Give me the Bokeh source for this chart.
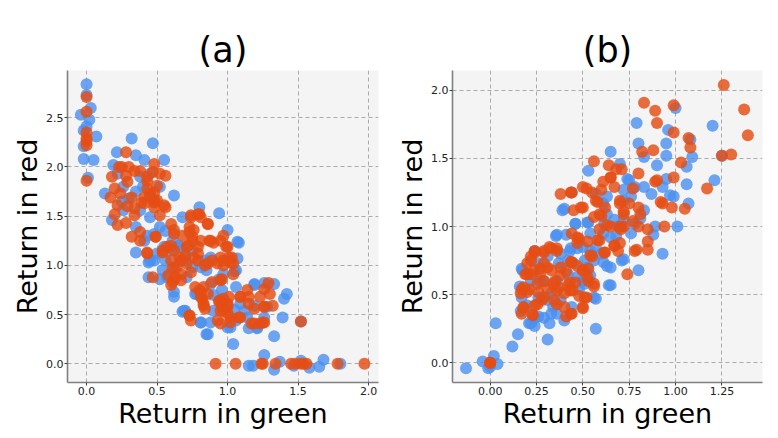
from bokeh.plotting import figure
from bokeh.layouts import row
from bokeh.models import Range1d, FixedTicker
from bokeh.embed import file_html
from bokeh.resources import INLINE

# ---------------- data ----------------
titles = ["(a)", "(b)"]
x_label = "Return in green"
y_label = "Return in red"

a_xticks = [0.0, 0.5, 1.0, 1.5, 2.0]
a_xtick_labels = ["0.0", "0.5", "1.0", "1.5", "2.0"]
a_yticks = [0.0, 0.5, 1.0, 1.5, 2.0, 2.5]
a_ytick_labels = ["0.0", "0.5", "1.0", "1.5", "2.0", "2.5"]
b_xticks = [0.0, 0.25, 0.5, 0.75, 1.0, 1.25]
b_xtick_labels = ["0.00", "0.25", "0.50", "0.75", "1.00", "1.25"]
b_yticks = [0.0, 0.5, 1.0, 1.5, 2.0]
b_ytick_labels = ["0.0", "0.5", "1.0", "1.5", "2.0"]

a_blue = [
    (0, 2.84), (0, 2.73), (0.03, 2.60), (-0.04, 2.53), (0.02, 2.48), (-0.02, 2.37), (0.07, 2.31),
    (-0.02, 2.21), (-0.02, 2.08), (0.05, 2.07), (0.01, 1.89), (0, 2.41),
    (0.32, 2.29), (0.47, 2.24), (0.215, 2.15), (0.35, 2.12), (0.55, 2.07), (0.41, 2.07), (0.19, 2.02),
    (0.13, 1.73), (0.62, 1.71), (0.18, 1.46), (0.35, 1.39), (0.35, 1.13), (0.44, 1.03), (0.48, 1.05),
    (0.44, 0.88), (0.62, 0.73), (0.68, 0.53), (0.81, 0.42), (0.85, 0.30), (1.04, 0.20), (0.94, 0.86),
    (1.08, 1.23), (1.07, 1.07), (1.05, 0.94), (1.06, 0.78), (1.19, 0.81), (1.26, 0.82), (1.33, 0.81),
    (1.42, 0.71), (1.40, 0.66), (1.39, 0.47), (1.33, 0.28), (1.21, 0.36), (0.94, 1.53), (0.80, 1.59),
    (0.68, 1.49), (0.61, 1.25), (0.54, 0.95), (0.67, 1.05), (0.75, 0.98), (0.84, 1.05), (0.88, 0.81),
    (1.0, 1.36), (0.96, 0.75), (0.90, 0.54), (1.0, 0.37), (1.06, 0.44), (1.09, 0.61), (1.14, 0.47),
    (1.26, 0.47), (1.28, 0.58), (0.26, 1.80), (0.30, 1.68), (0.38, 1.56), (0.45, 1.49), (0.26, 1.56),
    (0.41, 1.25), (0.48, 1.32), (0.55, 1.19), (0.50, 1.12), (0.71, 0.88), (0.78, 0.71), (0.45, 1.93),
    (0.52, 1.80), (0.38, 1.90), (0.22, 1.93), (0.62, 0.98), (0.57, 0.88), (0.60, 1.15), (0.70, 1.05),
    (0.75, 1.15), (0.65, 1.20), (0.85, 0.95), (0.90, 0.70), (0.95, 0.65), (1.0, 0.60), (1.05, 0.55),
    (0.25, 1.65), (0.35, 1.75), (0.40, 1.80), (0.45, 1.70), (1.52, 0.43), (0.69, 0.54), (0.88, 0.42),
    (1.07, 1.24), (1.06, 0.95), (0.62, 0.68), (0.52, 0.86), (0.45, 1.05), (0.56, 1.05), (0.88, 1.08),
    (0.97, 0.91), (1.19, 0.80), (0.70, 0.54), (0.77, 0.71), (0.81, 0.42), (0.86, 0.30), (1.02, 0.37),
    (1.15, 0.36), (1.21, 0.37), (1.12, 0.54), (1.19, 0.59), (0.52, 1.39), (0.43, 1.30), (0.67, 1.19),
    (0.70, 1.08), (0.81, 0.98), (0.56, 1.35),
    (1.15, -0.02), (1.18, -0.02), (1.33, -0.06), (1.37, 0.02), (1.52, 0.03), (1.58, -0.04),
    (1.65, -0.03), (1.68, 0.04), (1.80, 0.0), (1.26, 0.09), (1.47, -0.02),
]
a_orange = [
    (0, 2.71), (0, 2.56), (0, 2.35), (0, 2.29), (0, 2.22), (0, 1.86), (0, 2.26),
    (0.28, 2.15), (0.18, 1.90), (0.23, 2.0), (0.25, 2.0), (0.30, 2.0), (0.28, 1.91), (0.29, 1.85),
    (0.34, 1.96), (0.38, 1.96), (0.43, 1.86), (0.48, 2.03), (0.47, 1.95), (0.56, 1.91), (0.43, 1.78),
    (0.48, 1.74), (0.17, 1.69), (0.20, 1.78), (0.24, 1.73), (0.32, 1.69), (0.22, 1.61), (0.29, 1.60),
    (0.34, 1.58), (0.39, 1.64), (0.20, 1.52), (0.22, 1.41), (0.28, 1.43), (0.34, 1.51), (0.32, 1.29),
    (0.38, 1.34), (0.38, 1.25), (0.43, 1.12), (0.49, 1.29), (0.47, 0.88), (0.48, 1.59), (0.50, 1.66),
    (0.56, 1.59), (0.52, 1.51), (0.60, 1.42), (0.62, 1.36), (0.54, 1.13), (0.57, 1.19), (0.62, 1.15),
    (0.60, 1.05), (0.64, 0.98), (0.58, 0.90), (0.61, 0.83), (0.63, 0.88), (0.67, 0.91), (0.70, 1.10),
    (0.72, 1.20), (0.68, 1.30), (0.73, 1.39), (0.76, 1.36), (0.74, 1.49), (0.79, 1.52), (0.81, 1.49),
    (0.75, 1.29), (0.79, 1.19), (0.79, 1.05), (0.81, 1.25), (0.86, 1.42), (0.87, 1.25), (0.90, 1.23),
    (0.86, 1.02), (0.83, 0.78), (0.80, 0.75), (0.86, 0.71), (0.81, 0.68), (0.89, 0.83), (0.95, 1.08),
    (0.97, 1.30), (1.0, 1.19), (1.03, 1.08), (1.04, 1.02), (1.02, 1.03), (0.97, 1.0), (0.93, 1.02),
    (0.95, 0.85), (0.94, 0.64), (0.97, 0.66), (1.01, 0.68), (1.0, 0.58), (1.0, 0.51), (0.96, 0.58),
    (0.95, 0.41), (1.02, 0.42), (1.08, 0.47), (1.09, 0.68), (1.14, 0.75), (1.15, 0.61), (1.19, 0.56),
    (1.23, 0.68), (1.26, 0.76), (1.29, 0.82), (1.30, 0.71), (1.32, 0.59), (1.26, 0.58), (1.26, 0.42),
    (1.23, 0.41), (1.17, 0.41), (0.83, 0.59), (0.84, 0.56), (0.73, 0.49), (0.74, 0.44), (0.50, 1.81),
    (0.48, 1.66), (0.41, 1.69), (0.76, 1.08), (0.71, 1.02), (0.66, 1.08), (0.95, 0.54), (1.04, 0.91),
    (0.74, 1.51), (0.80, 1.52), (0.73, 1.34), (0.75, 1.25), (0.62, 1.32), (0.60, 1.20), (0.54, 1.15),
    (0.71, 1.19), (0.79, 1.12), (0.88, 1.25), (0.89, 1.05), (0.84, 1.0), (0.67, 1.05), (0.61, 0.97),
    (0.62, 0.86), (0.67, 0.85), (0.60, 0.80), (0.74, 0.93), (0.77, 0.78), (0.81, 0.73), (0.82, 0.66),
    (0.96, 0.86), (0.97, 1.05), (1.01, 1.08), (0.99, 1.19), (0.95, 1.25), (0.86, 1.42), (0.49, 1.29),
    (0.43, 1.13), (1.0, 0.61), (0.94, 0.63), (0.97, 0.54), (1.02, 0.47), (1.09, 0.47), (1.19, 0.41),
    (1.25, 0.42), (1.26, 0.58), (1.15, 0.68), (1.09, 0.68), (0.93, 0.44), (0.83, 0.61), (0.73, 0.49),
    (0.52, 1.93), (0.41, 1.63), (0.48, 1.64), (0.55, 1.61), (0.43, 1.90), (0.45, 1.73),
    (0.915, 0.0), (1.057, 0.0), (1.24, 0.0), (1.25, 0.0), (1.34, 0.0), (1.45, 0.0), (1.48, 0.0),
    (1.52, 0.0), (1.54, 0.0), (1.56, 0.0), (1.78, 0.0), (1.97, 0.0), (1.52, 0.43),
]
b_blue = [
    (-0.13, -0.04), (-0.04, 0.01), (-0.01, -0.04), (0.02, 0.05), (0.04, -0.01), (0.0, -0.03),
    (0.03, 0.29), (0.12, 0.12), (0.15, 0.21), (0.31, 0.17), (0.32, 0.29), (0.57, 0.25), (0.57, 0.47),
    (0.65, 0.57), (0.65, 0.70), (0.72, 0.76), (0.80, 0.68), (0.93, 0.80), (1.01, 1.0), (1.07, 1.17),
    (1.06, 1.31), (1.06, 1.44), (1.09, 1.51), (1.08, 1.64), (1.00, 1.87), (0.96, 1.71), (0.95, 1.61),
    (0.95, 1.52), (0.95, 1.35), (0.97, 1.23), (0.90, 1.45), (0.83, 1.51), (0.80, 1.61), (0.79, 1.76),
    (0.65, 1.55), (0.53, 1.41), (0.44, 1.25), (0.39, 1.12), (0.36, 0.94), (0.41, 0.94), (0.46, 1.02),
    (0.53, 1.03), (0.57, 1.24), (0.61, 1.17), (0.65, 0.92), (0.69, 1.0), (0.72, 1.05), (0.74, 1.35),
    (0.76, 1.22), (0.87, 1.24), (0.83, 1.12), (0.81, 1.06), (0.88, 0.94), (0.89, 1.0), (0.76, 0.95),
    (0.71, 0.75), (1.20, 1.74), (1.25, 1.52), (1.21, 1.34), (0.24, 0.82), (0.17, 0.69), (0.16, 0.56),
    (0.17, 0.48), (0.20, 0.42), (0.21, 0.29), (0.24, 0.27), (0.26, 0.34), (0.33, 0.36), (0.34, 0.41),
    (0.38, 0.46), (0.40, 0.31), (0.44, 0.41), (0.48, 0.54), (0.50, 0.60), (0.54, 0.64), (0.56, 0.75),
    (0.61, 0.74), (0.57, 0.85), (0.51, 0.75), (0.43, 0.82), (0.38, 0.80), (0.37, 0.73), (0.31, 0.78),
    (0.29, 0.60), (0.26, 0.73), (0.22, 0.60), (0.26, 0.48), (0.31, 0.46), (0.33, 0.51), (0.36, 0.60),
    (0.42, 0.65), (0.45, 0.73), (0.47, 0.84), (0.50, 0.85), (0.42, 0.75), (0.60, 0.80), (0.54, 0.95),
    (0.61, 0.95), (0.67, 1.05), (0.63, 1.22), (0.72, 1.19), (0.78, 1.29), (0.83, 1.29), (0.70, 1.46),
    (0.93, 1.29), (0.99, 1.22),
    (0.40, 1.13), (0.525, 1.03), (0.46, 1.02), (0.355, 0.93), (0.435, 0.84), (0.54, 0.82),
    (0.525, 0.70), (0.63, 0.71), (0.64, 0.57), (0.56, 0.48), (0.22, 0.29), (0.24, 0.33), (0.165, 0.38),
    (0.29, 0.33), (0.36, 0.36), (0.175, 0.68), (0.27, 0.60), (0.47, 0.63), (0.51, 0.58), (0.68, 0.93),
    (0.615, 1.02), (0.63, 1.09), (0.72, 1.27), (0.75, 1.34), (0.71, 1.0), (0.78, 1.02),
]
b_orange = [
    (1.26, 2.04), (0.83, 1.91), (0.99, 1.89), (0.89, 1.85), (1.37, 1.86), (0.90, 1.76), (0.99, 1.69),
    (1.39, 1.67), (0.82, 1.55), (0.88, 1.56), (1.08, 1.58), (1.07, 1.65), (0.56, 1.48), (0.64, 1.45),
    (0.68, 1.42), (0.71, 1.42), (1.03, 1.47), (1.25, 1.52), (1.30, 1.53), (1.17, 1.28), (1.05, 1.13),
    (0.98, 1.14), (0.99, 1.36), (0.89, 1.33), (0.90, 1.34), (0.80, 1.39), (0.77, 1.28), (0.93, 1.17),
    (0.92, 1.18), (0.94, 1.0), (0.85, 0.98), (0.85, 0.89), (0.85, 0.83), (0.79, 0.83), (0.74, 0.65),
    (0.70, 0.88), (0.72, 1.0), (0.72, 1.09), (0.70, 1.19), (0.67, 1.29), (0.65, 1.36), (0.61, 1.33),
    (0.55, 1.25), (0.50, 1.29), (0.52, 1.28), (0.44, 1.25), (0.38, 1.24), (0.50, 1.14), (0.45, 1.12),
    (0.58, 1.18), (0.62, 1.14), (0.59, 1.09), (0.56, 1.07), (0.63, 1.01), (0.65, 1.0), (0.70, 1.0),
    (0.80, 1.0), (0.75, 1.17), (0.80, 1.14), (0.81, 1.09), (0.59, 0.90), (0.67, 0.86), (0.69, 0.82),
    (0.62, 0.81), (0.55, 0.78), (0.48, 0.91), (0.47, 0.88), (0.56, 0.56), (0.53, 0.60), (0.50, 0.68),
    (0.53, 0.69), (0.44, 0.74), (0.41, 0.67), (0.38, 0.64), (0.51, 0.48), (0.50, 0.40), (0.44, 0.36),
    (0.41, 0.34), (0.36, 0.43), (0.31, 0.54), (0.28, 0.46), (0.24, 0.42), (0.23, 0.35), (0.17, 0.36),
    (0.18, 0.40), (0.24, 0.82), (0.22, 0.78), (0.32, 0.85), (0.36, 0.84), (0.29, 0.81), (0.20, 0.73),
    (0.19, 0.65), (0.22, 0.65), (0.17, 0.54), (0.20, 0.52), (0.26, 0.52), (0.31, 0.70), (0.35, 0.60),
    (0.36, 0.53), (0.40, 0.51), (0.43, 0.53), (0.46, 0.59), (0.43, 0.59), (0.27, 0.65), (0.29, 0.73),
    (0.44, 0.95),
    (0.435, 1.25), (0.49, 1.14), (0.47, 0.92), (0.525, 0.89), (0.58, 0.90), (0.54, 0.79), (0.615, 0.81),
    (0.67, 0.86), (0.57, 1.19), (0.60, 1.27), (0.65, 1.36), (0.70, 1.17), (0.72, 1.11), (0.77, 1.04),
    (0.705, 0.98), (0.60, 1.08), (0.59, 0.98), (0.78, 0.82), (0.29, 0.82), (0.24, 0.81), (0.33, 0.84),
    (0.36, 0.82), (0.22, 0.75), (0.20, 0.65), (0.24, 0.68), (0.27, 0.69), (0.33, 0.68), (0.38, 0.70),
    (0.435, 0.74), (0.47, 0.71), (0.50, 0.68), (0.525, 0.63), (0.56, 0.58), (0.18, 0.555), (0.21, 0.54),
    (0.255, 0.58), (0.29, 0.60), (0.34, 0.58), (0.37, 0.555), (0.42, 0.57), (0.445, 0.53), (0.48, 0.49),
    (0.52, 0.48), (0.29, 0.48), (0.345, 0.46), (0.255, 0.43), (0.18, 0.41), (0.23, 0.35), (0.40, 0.41),
    (0.435, 0.36), (0.50, 0.41), (0.165, 0.51),
    (0.0, 0.0), (0.0, 0.0), (0.0, 0.0),
]

BLUE = "#4a90f0"
ORANGE = "#e54d14"
FONT = "DejaVu Sans"


def make_panel(title, blue, orange, xr, yr, xt, xtl, yt, ytl, left, right, fw, fh):
    p = figure(output_backend="svg", toolbar_location=None,
               x_range=Range1d(*xr), y_range=Range1d(*yr),
               frame_width=fw, frame_height=fh,
               min_border_left=left, min_border_right=right,
               min_border_top=70, min_border_bottom=10)
    p.background_fill_color = "#f4f4f4"
    p.border_fill_color = "white"
    p.outline_line_color = None

    p.title.text = title
    p.title.align = "center"
    p.title.text_font = FONT
    p.title.text_font_size = "35px"
    p.title.text_font_style = "normal"
    p.title.text_color = "black"
    p.title.standoff = 2

    for ax, ticks, labels, lab in ((p.xaxis[0], xt, xtl, x_label), (p.yaxis[0], yt, ytl, y_label)):
        ax.ticker = FixedTicker(ticks=ticks)
        ax.major_label_overrides = {t: l for t, l in zip(ticks, labels)}
        ax.axis_label = lab
        ax.axis_label_text_font = FONT
        ax.axis_label_text_font_size = "27px"
        ax.axis_label_text_font_style = "normal"
        ax.axis_label_text_color = "black"
        ax.axis_label_standoff = 0
        ax.major_label_text_font = FONT
        ax.major_label_text_font_size = "11px"
        ax.major_label_text_color = "#222222"
        ax.major_label_standoff = 1
        ax.axis_line_color = "#808080"
        ax.axis_line_width = 1.6
        ax.major_tick_line_color = "#444444"
        ax.major_tick_out = 3
        ax.major_tick_in = 0
        ax.minor_tick_out = 0
        ax.minor_tick_in = 0

    p.xgrid.ticker = FixedTicker(ticks=xt)
    p.ygrid.ticker = FixedTicker(ticks=yt)
    p.grid.grid_line_color = "#aaaaaa"
    p.grid.grid_line_dash = "4 3"
    p.grid.grid_line_width = 1

    p.scatter([v[0] for v in blue], [v[1] for v in blue], size=12,
              fill_color=BLUE, fill_alpha=0.8, line_color=None)
    p.scatter([v[0] for v in orange], [v[1] for v in orange], size=12,
              fill_color=ORANGE, fill_alpha=0.82, line_color=None)
    return p


p1 = make_panel(titles[0], a_blue, a_orange, (-0.135, 2.07), (-0.19, 2.98),
                a_xticks, a_xtick_labels, a_yticks, a_ytick_labels, 67, 12, 311, 312)
p2 = make_panel(titles[1], b_blue, b_orange, (-0.203, 1.469), (-0.145, 2.146),
                b_xticks, b_xtick_labels, b_yticks, b_ytick_labels, 62, 8, 310, 312)

layout = row(p1, p2)
open("out.html", "w").write(file_html(layout, INLINE))
